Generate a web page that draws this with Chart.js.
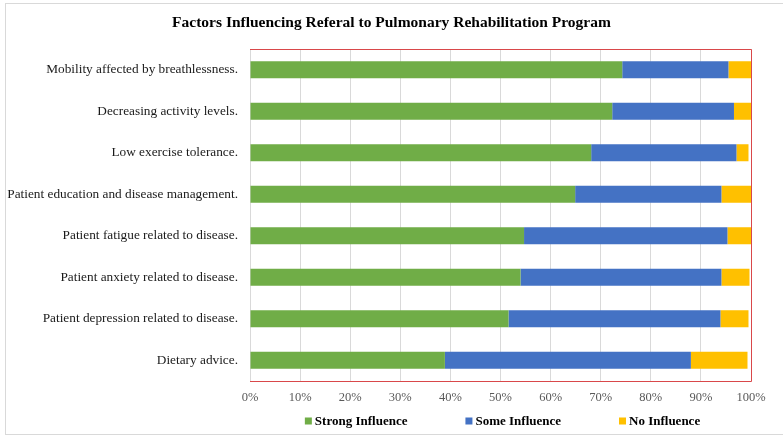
<!DOCTYPE html>
<html>
<head>
<meta charset="utf-8">
<script src="https://cdn.jsdelivr.net/npm/chart.js@4"></script>
<style>
  html, body { margin: 0; padding: 0; background: #fff; }
  #wrap { width: 783px; height: 441px; }
</style>
</head>
<body>
<div id="wrap"><canvas id="chart-referral"></canvas></div>
<script>
const factors = [
  'Mobility affected by breathlessness.',
  'Decreasing activity levels.',
  'Low exercise tolerance.',
  'Patient education and disease management.',
  'Patient fatigue related to disease.',
  'Patient anxiety related to disease.',
  'Patient depression related to disease.',
  'Dietary advice.'
];
const strongInfluence = [74.3, 72.3, 68.1, 64.9, 54.7, 54.0, 51.6, 38.9];
const someInfluence = [21.2, 24.3, 29.0, 29.2, 40.6, 40.1, 42.3, 49.1];
const noInfluence = [4.5, 3.4, 2.4, 5.9, 4.7, 5.6, 5.6, 11.3];
const xTicks = [0, 10, 20, 30, 40, 50, 60, 70, 80, 90, 100];
const chartTitle = `Factors Influencing Referal to Pulmonary Rehabilitation Program`;

const serif = `"Liberation Serif", "Times New Roman", serif`;

// frame round the picture, red box round the plot, title centred on the page and a wide-spaced legend
const frames = {
  id: `frames`,
  beforeDraw: (chart) => {
    const ctx = chart.ctx;
    ctx.save();
    ctx.strokeStyle = `#d9d9d9`;
    ctx.lineWidth = 1;
    ctx.strokeRect(5.5, 3.5, 800, 431);
    ctx.restore();
  },
  afterDatasetsDraw: (chart) => {
    const { left, right, top, bottom } = chart.chartArea;
    const ctx = chart.ctx;
    ctx.save();
    ctx.strokeStyle = `#d9484a`;
    ctx.lineWidth = 1;
    ctx.beginPath();
    ctx.moveTo(left, Math.round(top) + 0.5);
    ctx.lineTo(Math.round(right) + 0.5, Math.round(top) + 0.5);
    ctx.lineTo(Math.round(right) + 0.5, Math.round(bottom) + 0.5);
    ctx.lineTo(left, Math.round(bottom) + 0.5);
    ctx.stroke();
    ctx.restore();
  },
  afterDraw: (chart) => {
    const ctx = chart.ctx;
    const { left, right } = chart.chartArea;
    ctx.save();
    ctx.font = `bold 15.5px ${serif}`;
    ctx.textAlign = `center`;
    ctx.textBaseline = `middle`;
    ctx.fillStyle = `#000`;
    ctx.fillText(chartTitle, chart.width / 2, 23);

    const box = 7, gap = 3, spacing = 58;
    ctx.font = `bold 13px ${serif}`;
    ctx.textAlign = `left`;
    const items = chart.data.datasets.map((d) => ({
      text: d.label,
      color: d.backgroundColor,
      w: box + gap + ctx.measureText(d.label).width
    }));
    const total = items.reduce((s, it) => s + it.w, 0) + spacing * (items.length - 1);
    let x = (left + right) / 2 - total / 2 + 2;
    const y = 421;
    items.forEach((it) => {
      ctx.fillStyle = it.color;
      ctx.fillRect(x, y - box / 2, box, box);
      ctx.fillStyle = `#000`;
      ctx.fillText(it.text, x + box + gap, y + 1);
      x += it.w + spacing;
    });
    ctx.restore();
  }
};

const bar = (label, data, color) => ({
  label,
  data,
  backgroundColor: color,
  borderWidth: 0,
  categoryPercentage: 0.41,
  barPercentage: 1
});

new Chart(document.getElementById('chart-referral'), {
  type: `bar`,
  data: {
    labels: factors,
    datasets: [
      bar(`Strong Influence`, strongInfluence, `#70ad47`),
      bar(`Some Influence`, someInfluence, `#4472c4`),
      bar(`No Influence`, noInfluence, `#ffc000`)
    ]
  },
  options: {
    indexAxis: `y`,
    responsive: true,
    maintainAspectRatio: false,
    animation: false,
    layout: { padding: { left: 0, right: 32, top: 49, bottom: 27 } },
    plugins: {
      title: { display: false },
      legend: { display: false },
      tooltip: { enabled: false }
    },
    scales: {
      x: {
        stacked: true,
        min: 0,
        max: 100,
        afterBuildTicks: (scale) => {
          scale.ticks = xTicks.map((v) => ({ value: v }));
        },
        ticks: {
          color: `#595959`,
          font: { family: serif, size: 12.5, lineHeight: 1.2 },
          padding: 9,
          callback: (v) => `${v}%`
        },
        grid: { color: `#d9d9d9`, drawTicks: false },
        border: { display: false }
      },
      y: {
        stacked: true,
        afterFit: (scale) => { scale.width = 250; },
        ticks: {
          color: `#1a1a1a`,
          font: { family: serif, size: 13.3 },
          padding: 12
        },
        grid: { display: false, drawTicks: false },
        border: { display: false }
      }
    }
  },
  plugins: [frames]
});
</script>
</body>
</html>
